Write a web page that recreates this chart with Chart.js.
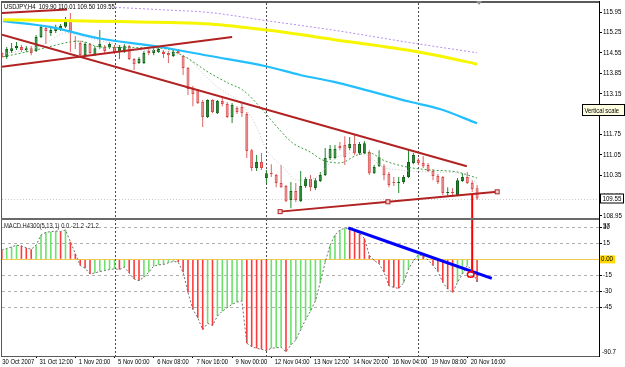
<!DOCTYPE html>
<html><head><meta charset="utf-8">
<script src="https://cdn.jsdelivr.net/npm/chart.js@4.4.1/dist/chart.umd.min.js"></script>
<style>html,body{margin:0;padding:0;background:#fff;overflow:hidden}canvas{display:block}</style>
</head><body>
<canvas id="c" width="625" height="367"></canvas>
<script>
const FONT = "'Liberation Sans',Arial,sans-serif";

// ---- data (bar index 0..97, H4 bars) ----
const candleOpen = [114.54,114.41,114.61,114.71,114.75,114.65,114.71,114.61,115.09,115.40,
 115.23,115.30,115.37,115.44,115.68,114.96,114.89,114.47,114.85,114.47,
 114.75,114.75,114.75,114.75,114.58,114.58,114.78,114.34,114.20,114.20,
 114.61,114.54,114.58,114.58,114.54,114.44,114.61,114.44,114.03,113.31,
 113.27,112.86,112.35,112.93,112.48,112.90,112.79,112.35,112.66,112.69,
 112.45,111.21,110.60,110.80,110.25,110.42,110.36,110.08,109.98,109.50,
 109.81,109.46,109.98,110.22,109.91,110.15,110.36,110.94,110.94,111.35,
 111.39,111.28,111.42,111.11,111.11,111.15,110.42,110.66,110.66,110.39,
 110.12,110.08,110.12,110.29,110.77,110.87,110.77,110.70,110.49,110.32,
 110.29,109.74,109.77,109.67,110.15,110.29,110.08,109.90];
const candleHigh = [114.58,114.75,114.89,114.92,114.82,114.78,114.78,115.16,115.51,115.47,
 115.40,115.51,115.54,115.78,115.92,115.13,114.96,114.92,114.89,114.78,
 115.33,114.82,114.92,114.82,114.82,114.85,114.82,114.37,114.41,114.61,
 114.68,114.71,114.75,114.65,114.61,114.65,114.68,114.47,114.06,113.41,
 113.31,112.93,112.96,112.96,112.93,113.03,112.86,112.83,112.72,112.79,
 112.52,111.25,111.04,111.11,110.53,110.73,110.39,110.70,110.01,110.12,
 110.08,110.49,110.29,110.36,110.25,110.46,111.28,111.39,111.39,111.49,
 111.69,111.66,111.73,111.49,111.52,111.21,110.70,111.21,110.73,110.46,
 110.29,110.29,110.36,111.25,111.11,110.94,111.01,110.77,110.56,110.39,
 110.32,109.94,109.91,110.25,110.42,110.46,110.18,110.01];
const candleLow = [114.37,114.34,114.54,114.65,114.58,114.58,114.47,114.58,115.06,114.85,
 115.13,115.23,115.30,115.40,114.58,114.68,114.44,114.44,114.51,114.44,
 114.68,114.54,114.68,114.51,114.34,114.54,114.30,113.96,114.17,114.17,
 114.47,114.47,114.54,114.37,114.20,114.41,114.51,113.79,113.10,112.72,
 112.79,112.00,112.31,112.48,112.45,112.72,112.31,112.14,112.45,112.35,
 110.94,110.49,110.49,110.53,110.08,110.29,109.94,109.91,109.43,109.22,
 109.43,109.43,109.91,109.81,109.84,110.12,110.32,110.87,110.90,111.21,
 110.70,111.21,111.04,111.04,111.08,110.36,110.39,110.63,110.18,109.94,
 109.98,109.74,110.05,110.25,110.73,110.70,110.60,110.46,110.18,110.05,
 109.67,109.60,109.63,109.63,110.12,110.05,109.77,109.50];
const candleClose = [114.41,114.68,114.71,114.78,114.65,114.71,114.54,115.09,115.44,115.30,
 115.33,115.44,115.47,115.68,115.26,114.94,114.47,114.85,114.54,114.71,
 114.85,114.61,114.85,114.54,114.75,114.78,114.34,114.17,114.34,114.54,
 114.54,114.65,114.68,114.51,114.47,114.58,114.54,114.03,113.31,113.14,
 112.83,112.35,112.93,112.52,112.90,112.79,112.35,112.76,112.52,112.48,
 111.18,110.60,110.80,110.60,110.42,110.39,110.08,109.94,109.46,109.81,
 109.50,109.98,110.22,109.94,110.18,110.36,110.94,111.25,111.25,111.28,
 110.97,111.42,111.11,111.42,111.45,110.42,110.63,110.97,110.36,110.01,
 110.08,110.12,110.29,110.80,111.04,110.77,110.66,110.49,110.32,110.12,
 109.74,109.77,109.74,110.18,110.29,110.08,109.88,109.55];
const macdValues = [8.6,10.2,11.7,13.3,12.7,10.8,9.5,13.3,22.9,25.4,
 26.0,26.6,26.2,27.6,16.5,5.4,-5.7,-8.3,-13.7,-12.7,
 -11.4,-10.5,-9.5,-8.9,-9.5,-7.3,-12.7,-18.4,-20.0,-16.8,
 -12.1,-6.3,-5.1,-4.8,-3.2,-1.9,-2.5,-12.1,-31.1,-47.0,
 -54.9,-66.0,-60.0,-62.0,-53.3,-48.6,-45.4,-42.2,-40.0,-39.0,
 -78.7,-81.9,-83.5,-84.4,-85.7,-83.5,-83.0,-82.5,-86.7,-80.3,
 -75.6,-66.0,-56.5,-48.6,-39.0,-21.6,-2.5,13.3,22.9,27.6,
 29.2,29.0,26.7,24.4,19.7,3.8,-1.0,-4.1,-12.1,-24.8,
 -26.3,-27.3,-22.0,-9.0,-1.5,4.4,3.2,-0.6,-5.7,-11.4,
 -21.6,-27.9,-31.1,-21.6,-13.7,-5.7,-10.5,-21.2];
const macdSignal = macdValues; // signal period 1

// moving averages [barIndex, price]
const maYellow = [[0.24,115.68],[11.9,115.66],[24.1,115.62],[34.3,115.59],[42.5,115.54],[54.1,115.33],[67.6,115.01],[83.3,114.63],[89.4,114.44],[97.0,114.16]];
const maCyan = [[0.24,115.64],[9.8,115.44],[20.0,115.04],[32.3,114.75],[42.5,114.44],[54.1,114.08],[60.9,113.79],[67.6,113.56],[83.3,112.87],[89.4,112.62],[97.0,112.13]];
const maPurple = [[23.1,116.11],[32.3,116.03],[42.5,115.93],[54.1,115.65],[67.6,115.33],[83.3,114.90],[97.0,114.55]];
const maGreen = [[0.24,114.41],[7.8,114.68],[13.9,114.92],[16.0,114.95],[20.0,114.75],[32.3,114.71],[36.8,114.47],[42.1,113.89],[46.2,113.51],[49.2,113.27],[52.7,112.69],[56.2,112.00],[59.4,111.45],[62.9,111.15],[65.5,110.87],[69.0,110.77],[72.5,111.04],[75.1,111.11],[77.8,110.87],[82.7,110.63],[87.4,110.53],[92.9,110.46],[97.0,110.25]];
const maGray = [[0.24,114.51],[7.8,114.78],[13.3,115.23],[16.0,115.13],[22.1,114.89],[26.8,114.68],[33.7,114.58],[37.8,114.37],[40.4,113.96],[43.5,113.44],[48.6,112.83],[51.3,112.24],[54.1,111.21],[57.4,110.63],[60.2,110.18],[64.3,110.29],[67.6,110.87],[71.1,111.11],[74.5,111.04],[77.8,110.63],[81.3,110.53],[87.4,110.46],[93.5,110.42],[97.0,110.08]];

// trend lines [barIndex, value]
const trendTop = [[0.04,115.92],[13.3,116.04]];
const trendRise = [[0.04,114.07],[47.0,115.09]];
const trendFall = [[0.04,115.17],[94.9,110.66]];
const trendBase = [[56.8,109.10],[101.1,109.78]];
const trendBaseMarks = [56.8,78.8,101.1];
const macdTrend = [[70.7,29.5],[100.0,-17.8]];
const redMark = {bar:96, fromPrice:109.70, toMacd:-11.2};
const redCircle = {bar:95.7, macd:-14.2};
const shiftMarkBar = 97.4;

const separators = [23,54,85];
const macdLevels = [30,15,-15,-30,-45];
const bidPrice = 109.55;

const xTickPos = [-0.6,7,15,23,31,39,47,55,63,71,79,87,95];
const xTickLabels = ["30 Oct 2007","31 Oct 12:00","1 Nov 20:00","5 Nov 00:00","6 Nov 08:00","7 Nov 16:00","9 Nov 00:00","12 Nov 04:00","13 Nov 12:00","14 Nov 20:00","16 Nov 04:00","19 Nov 08:00","20 Nov 16:00"];
const priceTicks = [115.95,115.25,114.55,113.85,113.15,112.45,111.75,111.05,110.35,109.65,108.95];
const macdTicks = [30,15,0,-15,-30,-45];
const macdMax = 37, macdMin = -90.7;
const titleText = "USDJPY,H4  109.90 110.01 109.50 109.55";
const macdTitle = "MACD H4300(5,13,1) 0.0 -21.2 -21.2";

// ---- build ----
const toXY = p => p.map(([x, y]) => ({x, y}));
const bull = candleClose.map((c, i) => c >= candleOpen[i]);
const macdRise = macdValues.map((v, i) => i > 0 && v > macdValues[i - 1]);

function seg(ctx, x1, y1, x2, y2) { ctx.beginPath(); ctx.moveTo(x1, y1); ctx.lineTo(x2, y2); ctx.stroke(); }
function interp(pts, j) { const [a, b] = pts; return a[1] + (j - a[0]) / (b[0] - a[0]) * (b[1] - a[1]); }
function ctext(ctx, s, x, y, sx) { ctx.save(); ctx.translate(x, y); ctx.scale(sx, 1); ctx.fillText(s, 0, 0); ctx.restore(); }

const decor = {
  id: 'decor',
  beforeDatasetsDraw(chart) {
    const {ctx, chartArea: a, scales: {x, y, y2}} = chart;
    ctx.save();
    ctx.lineWidth = 1;
    ctx.strokeStyle = '#b0b0b0'; ctx.setLineDash([3, 3]);
    macdLevels.forEach(v => { const Y = Math.round(y2.getPixelForValue(v)) + 0.5; seg(ctx, a.left, Y, a.right, Y); });
    ctx.setLineDash([]); ctx.strokeStyle = '#f2c94c';
    let Y = Math.round(y2.getPixelForValue(0)) + 0.5; seg(ctx, a.left, Y, a.right, Y);
    ctx.strokeStyle = '#cccccc'; ctx.setLineDash([1, 2]);
    Y = Math.round(y.getPixelForValue(bidPrice)) + 0.5; seg(ctx, a.left, Y, a.right, Y);
    ctx.strokeStyle = '#4a4a4a'; ctx.setLineDash([2, 2]);
    separators.forEach(s => { const X = Math.round(x.getPixelForValue(s)) + 0.5; seg(ctx, X, a.top, X, a.bottom); });
    ctx.restore();
  },
  afterDraw(chart) {
    const {ctx, chartArea: a, scales: {x, y, y2}} = chart;
    ctx.save();
    ctx.setLineDash([]);
    trendBaseMarks.forEach(j => {
      const X = x.getPixelForValue(j), Yp = y.getPixelForValue(interp(trendBase, j));
      ctx.fillStyle = '#f2d2d2'; ctx.fillRect(X - 2, Yp - 2, 4, 4);
      ctx.strokeStyle = '#b22222'; ctx.lineWidth = 1; ctx.strokeRect(X - 2, Yp - 2, 4, 4);
    });
    ctx.strokeStyle = '#ff0000'; ctx.lineWidth = 2;
    const RX = x.getPixelForValue(redMark.bar);
    seg(ctx, RX, y.getPixelForValue(redMark.fromPrice), RX, y2.getPixelForValue(redMark.toMacd));
    ctx.lineWidth = 1.5; ctx.beginPath();
    ctx.ellipse(x.getPixelForValue(redCircle.bar), y2.getPixelForValue(redCircle.macd), 3.3, 2.8, 0, 0, Math.PI * 2); ctx.stroke();
    ctx.fillStyle = '#5a5a5a';
    ctx.fillRect(a.left - 1, a.top - 2, a.right - a.left + 2, 2);
    ctx.fillRect(a.left - 1, a.top - 2, 1, a.bottom - a.top + 3);
    ctx.fillRect(a.left - 1, a.bottom, a.right - a.left + 2, 1);
    ctx.fillStyle = '#000'; ctx.fillRect(a.right, a.top - 2, 1, a.bottom - a.top + 3);
    ctx.fillStyle = '#6a6a6a'; ctx.fillRect(a.left - 1, y.bottom - 1, a.right - a.left + 1, 2);
    const SX = x.getPixelForValue(shiftMarkBar);
    ctx.fillStyle = '#909090'; ctx.beginPath(); ctx.moveTo(SX - 3, a.top - 2); ctx.lineTo(SX + 3, a.top - 2); ctx.lineTo(SX, a.top + 2); ctx.closePath(); ctx.fill();
    ctx.font = '7.5px ' + FONT; ctx.textBaseline = 'middle'; ctx.textAlign = 'left';
    ctx.fillStyle = '#000';
    ctext(ctx, titleText, a.left + 2, a.top + 3.5, 0.78);
    ctx.fillStyle = '#222'; ctext(ctx, macdTitle, a.left + 2, y2.top + 7, 0.77);
    ctx.fillStyle = '#000';
    x.ticks.forEach((t, i) => ctext(ctx, xTickLabels[i], x.getPixelForValue(t.value) + 3.5, a.bottom + 5.5, 0.78));
    y.ticks.forEach(t => ctext(ctx, t.value.toFixed(2), a.right + 4, y.getPixelForValue(t.value), 0.82));
    y2.ticks.forEach(t => { if (t.value !== 0) ctext(ctx, String(t.value), a.right + 4, y2.getPixelForValue(t.value), 0.82); });
    ctext(ctx, String(macdMax), a.right + 4, y2.getPixelForValue(macdMax) + 6, 0.82);
    ctext(ctx, String(macdMin), a.right + 3, y2.getPixelForValue(macdMin) - 4, 0.82);
    const Y0 = y2.getPixelForValue(0);
    ctx.fillStyle = '#ffd800'; ctx.fillRect(a.right + 1, Y0 - 4, 15, 8);
    ctx.fillStyle = '#000'; ctext(ctx, '0.00', a.right + 2, Y0, 0.82);
    const YB = y.getPixelForValue(bidPrice);
    ctx.fillStyle = '#ffffff'; ctx.fillRect(a.right + 1, YB - 5, 24, 10);
    ctx.strokeStyle = '#000'; ctx.lineWidth = 1; ctx.strokeRect(a.right + 1.5, YB - 4.5, 23, 9);
    ctx.fillStyle = '#000'; ctext(ctx, bidPrice.toFixed(2), a.right + 3.5, YB, 0.82);
    ctx.fillStyle = '#ffffe1'; ctx.fillRect(582, 104, 43, 12);
    ctx.strokeStyle = '#000'; ctx.strokeRect(582.5, 104.5, 42, 11);
    ctx.fillStyle = '#000'; ctext(ctx, 'Vertical scale', 584.5, 110.5, 0.78);
    ctx.restore();
  }
};

const lineDs = (data, color, width, dash, axis, order) => ({
  type: 'line', data: toXY(data), borderColor: color, borderWidth: width, borderDash: dash || [],
  pointRadius: 0, fill: false, cubicInterpolationMode: 'monotone', yAxisID: axis || 'y', order: order ?? 3
});

Chart.defaults.font.family = FONT;
Chart.defaults.font.size = 7;
Chart.defaults.color = '#000';

new Chart(document.getElementById('c'), {
  type: 'bar',
  data: {
    datasets: [
      lineDs(trendTop, '#b22222', 2, null, 'y', 0),
      lineDs(trendRise, '#b22222', 2, null, 'y', 0),
      lineDs(trendFall, '#b22222', 2, null, 'y', 0),
      lineDs(trendBase, '#b22222', 2, null, 'y', 0),
      lineDs(macdTrend, '#0000ff', 3, null, 'y2', 0),
      lineDs(maYellow, '#f6f600', 3, null, 'y', 3),
      lineDs(maCyan, '#22bfff', 2.2, null, 'y', 3),
      lineDs(maPurple, '#b48cf0', 1, [2, 2], 'y', 3),
      lineDs(maGreen, '#3f9f3f', 1, [2, 2], 'y', 3),
      lineDs(maGray, '#c4c4c4', 1, [1, 2], 'y', 3),
      { type: 'line', data: macdSignal.map((v, i) => ({x: i, y: v})), borderColor: '#707070', borderWidth: 1,
        borderDash: [2, 2], pointRadius: 0, fill: false, tension: 0, yAxisID: 'y2', order: 2 },
      { data: candleOpen.map((o, i) => ({x: i, y: [o, candleClose[i]]})), yAxisID: 'y',
        backgroundColor: bull.map(b => b ? '#22882e' : '#ec8787'), borderColor: bull.map(b => b ? '#106018' : '#d84848'),
        borderWidth: 1, borderSkipped: false, barThickness: 3, minBarLength: 1, grouped: false, inflateAmount: 0, order: 4 },
      { data: candleLow.map((l, i) => ({x: i, y: [l, candleHigh[i]]})), yAxisID: 'y',
        backgroundColor: bull.map(b => b ? '#22882e' : '#e06262'), barThickness: 1, grouped: false, inflateAmount: 0, order: 5 },
      { data: macdValues.map((v, i) => ({x: i, y: v})), yAxisID: 'y2',
        backgroundColor: macdRise.map(r => r ? '#6ee06e' : '#ff3a3a'), barThickness: 1.6, grouped: false, inflateAmount: 0, order: 6 }
    ]
  },
  options: {
    responsive: false, animation: false, events: [],
    layout: {padding: {left: 2, top: 3, right: 0, bottom: 0}},
    plugins: {legend: {display: false}, tooltip: {enabled: false}},
    scales: {
      x: {
        type: 'linear', min: 0.04, max: 121.88, offset: false,
        grid: {display: true, drawOnChartArea: false, drawTicks: true, tickLength: 2, color: '#000', offset: false},
        border: {display: false},
        ticks: {display: false, autoSkip: false, maxRotation: 0, minRotation: 0},
        afterBuildTicks: s => { s.ticks = xTickPos.map(v => ({value: v})); },
        afterFit: s => { s.height = 11; }
      },
      y: {
        type: 'linear', position: 'right', stack: 'panes', stackWeight: 216, weight: 1,
        min: 108.847, max: 116.259,
        grid: {drawOnChartArea: false, tickLength: 3, color: '#000'}, border: {display: false},
        ticks: {display: false, autoSkip: false},
        afterBuildTicks: s => { s.ticks = priceTicks.map(v => ({value: v})); },
        afterFit: s => { s.width = 26; }
      },
      y2: {
        type: 'linear', position: 'right', stack: 'panes', stackWeight: 137, weight: 2,
        min: macdMin, max: 37.9,
        grid: {drawOnChartArea: false, tickLength: 3, color: '#000'}, border: {display: false},
        ticks: {display: false, autoSkip: false},
        afterBuildTicks: s => { s.ticks = macdTicks.map(v => ({value: v})); },
        afterFit: s => { s.width = 26; }
      }
    }
  },
  plugins: [decor]
});
</script>
</body></html>
